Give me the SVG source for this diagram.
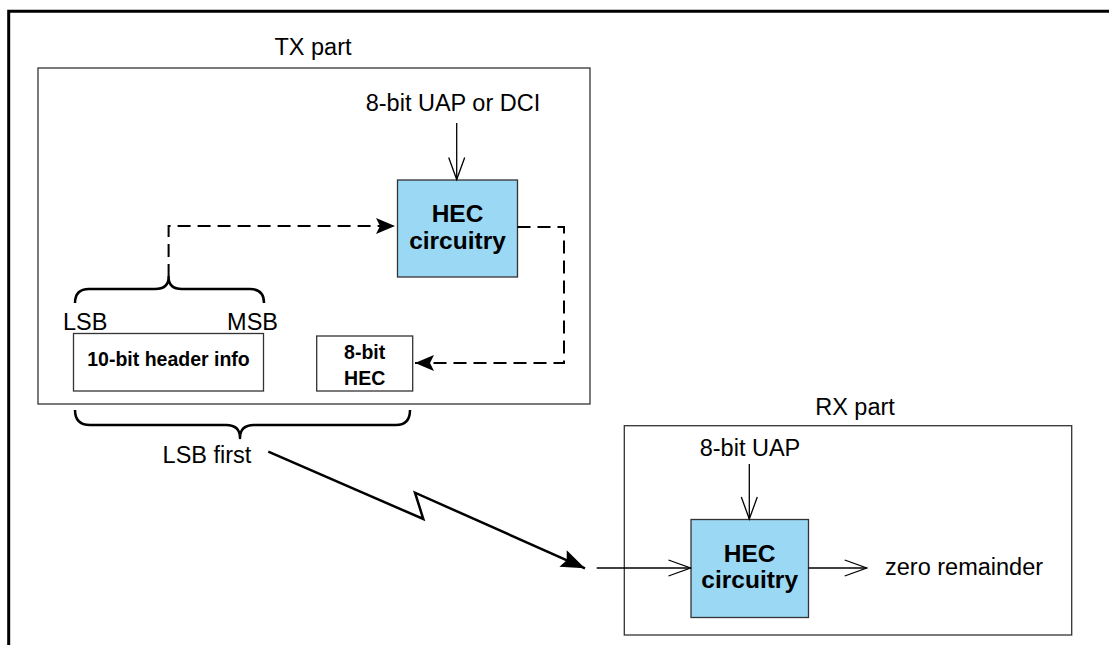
<svg xmlns="http://www.w3.org/2000/svg" width="1109" height="645" viewBox="0 0 1109 645">
  <style>
    .lbl { font-family: "Liberation Sans", Arial, sans-serif; font-size: 23.5px; fill: #000; }
    .hec { font-family: "Liberation Sans", Arial, sans-serif; font-size: 24.5px; font-weight: bold; fill: #000; text-anchor: middle; }
    .box { font-family: "Liberation Sans", Arial, sans-serif; font-size: 19.5px; font-weight: bold; fill: #000; text-anchor: middle; }
    .frame { fill: #fff; stroke: #333; stroke-width: 1.3; }
    .blue { fill: #9ad8f4; stroke: #333; stroke-width: 1.3; }
    .brace { fill: none; stroke: #000; stroke-width: 2.5; stroke-linejoin: round; }
    .dash { fill: none; stroke: #000; stroke-width: 2; stroke-dasharray: 13 7; }
    .solid { fill: none; stroke: #000; stroke-width: 1.3; }
  </style>
  <defs>
    <marker id="filled" markerUnits="userSpaceOnUse" markerWidth="20" markerHeight="18" refX="0" refY="0" orient="auto" overflow="visible">
      <path d="M0,0 L-19,-8 L-15,0 L-19,8 Z" fill="#000"/>
    </marker>
    <marker id="bolt" markerUnits="userSpaceOnUse" markerWidth="26" markerHeight="20" refX="0" refY="0" orient="auto" overflow="visible">
      <path d="M0,0 L-24,-9 L-20,0 L-24,9 Z" fill="#000"/>
    </marker>
    <marker id="open" markerUnits="userSpaceOnUse" markerWidth="24" markerHeight="18" refX="0" refY="0" orient="auto" overflow="visible">
      <path d="M-22,-8 L0,0 L-22,8" fill="none" stroke="#000" stroke-width="1.3"/>
    </marker>
  </defs>

  <rect x="0" y="0" width="1109" height="645" fill="#fff"/>
  <path d="M8.7,645 L8.7,11.3 L1109,11.3" fill="none" stroke="#000" stroke-width="3"/>

  <g id="tx-part">
    <rect class="frame" x="38" y="68" width="552" height="336"/>
    <text class="lbl" x="313" y="55" text-anchor="middle">TX part</text>
  </g>

  <g id="rx-part">
    <rect class="frame" x="624.3" y="425.7" width="447.4" height="209.3"/>
    <text class="lbl" x="855" y="415" text-anchor="middle">RX part</text>
  </g>

  <g id="tx-input">
    <text class="lbl" x="453" y="111" text-anchor="middle">8-bit UAP or DCI</text>
  </g>

  <g id="tx-hec">
    <rect class="blue" x="397.5" y="180" width="120" height="97"/>
    <text class="hec" x="457.5" y="222">HEC</text>
    <text class="hec" x="457.5" y="249">circuitry</text>
  </g>

  <g id="header-info">
    <rect class="frame" x="73.5" y="333.5" width="190" height="57.5"/>
    <text class="box" x="168.5" y="366">10-bit header info</text>
    <text class="lbl" x="63" y="330">LSB</text>
    <text class="lbl" x="278" y="330" text-anchor="end">MSB</text>
  </g>

  <g id="hec-field">
    <rect class="frame" x="316.7" y="336" width="96" height="55"/>
    <text class="box" x="364.7" y="359">8-bit</text>
    <text class="box" x="364.7" y="385">HEC</text>
  </g>

  <g id="lsb-first">
    <text class="lbl" x="207" y="463" text-anchor="middle">LSB first</text>
  </g>

  <g id="rx-input">
    <text class="lbl" x="750" y="456" text-anchor="middle">8-bit UAP</text>
  </g>

  <g id="rx-hec">
    <rect class="blue" x="691" y="519.5" width="117.5" height="98"/>
    <text class="hec" x="749.7" y="562">HEC</text>
    <text class="hec" x="749.7" y="588">circuitry</text>
  </g>

  <g id="rx-output">
    <text class="lbl" x="885" y="575">zero remainder</text>
  </g>

  <g id="connectors">
    <path class="brace" d="M75,303 Q75,289 89,289 L155,289 Q168.6,289 168.6,277 Q168.6,289 182,289 L250,289 Q264,289 264,303"/>
    <path class="brace" d="M75,410 Q75,425 90,425 L226,425 Q240,425 240,438 Q240,425 254,425 L396,425 Q410,425 410,410"/>
    <path class="dash" d="M168.6,277 L168.6,226 L395,226" marker-end="url(#filled)"/>
    <path class="dash" d="M517.5,227 L564,227 L564,363 L415,363" marker-end="url(#filled)"/>
    <path class="solid" d="M456.7,123 L456.7,179.5" marker-end="url(#open)"/>
    <path class="solid" d="M749.3,464 L749.3,519" marker-end="url(#open)"/>
    <path class="solid" d="M596.7,568 L690.5,568" marker-end="url(#open)"/>
    <path class="solid" d="M808.5,568 L866.7,568" marker-end="url(#open)"/>
    <path d="M268.3,451.7 L423.3,519 L415,492.7 L585,568.3" fill="none" stroke="#000" stroke-width="2.5" stroke-linejoin="miter" marker-end="url(#bolt)"/>
  </g>
</svg>
